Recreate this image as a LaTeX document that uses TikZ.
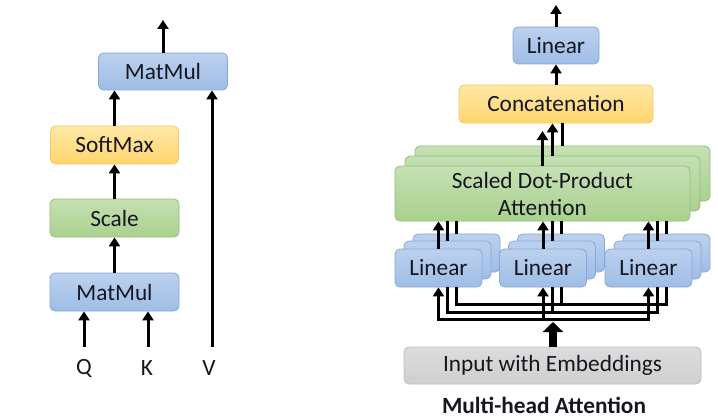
\documentclass[tikz,border=0pt]{standalone}
\usepackage{fontspec}
\setmainfont{Carlito}
\usetikzlibrary{arrows.meta,calc}
\definecolor{txt}{RGB}{22,22,32}
\definecolor{blueT}{HTML}{BCD1EE}
\definecolor{blueBot}{HTML}{9EBDE6}
\definecolor{blueB}{HTML}{86A8D8}
\definecolor{greenT}{HTML}{C6E0B4}
\definecolor{greenBot}{HTML}{A9D18E}
\definecolor{greenB}{HTML}{93BE79}
\definecolor{yelT}{HTML}{FFE7A6}
\definecolor{yelBot}{HTML}{FFD66E}
\definecolor{yelB}{HTML}{F4C96A}
\definecolor{grayT}{HTML}{DCDCDC}
\definecolor{grayBot}{HTML}{CFCFCF}
\definecolor{grayB}{HTML}{BEBEBE}
\newcommand{\fs}{\fontsize{23.3pt}{27pt}\selectfont}
\tikzset{
  box/.style={rounded corners=5pt, line width=0.8pt, inner sep=0pt, font=\fs, text=txt, align=center},
  bluebox/.style={box, draw=blueB, top color=blueT, bottom color=blueBot},
  greenbox/.style={box, draw=greenB, top color=greenT, bottom color=greenBot},
  yelbox/.style={box, draw=yelB, top color=yelT, bottom color=yelBot},
  graybox/.style={box, draw=grayB, top color=grayT, bottom color=grayBot},
  arr/.style={line width=3pt, -{Triangle[length=9pt,width=11pt]}},
  wire/.style={line width=3pt, line cap=rect},
  plain/.style={line width=3pt},
  bigarr/.style={line width=8pt, -{Triangle[length=10pt,width=20pt]}},
  lbl/.style={font=\fs, text=txt, inner sep=0pt}
}
\begin{document}
\begin{tikzpicture}[x=1pt,y=-1pt]
\useasboundingbox (0,0) rectangle (718,420);
\fill[white] (0,0) rectangle (718,420);
% ---------- left: scaled dot-product attention ----------
\node[bluebox, minimum width=129pt, minimum height=37pt] (mm1) at (163,71.5) {MatMul};
\node[yelbox, minimum width=128pt, minimum height=38pt] (sm) at (114.5,145) {SoftMax};
\node[greenbox, minimum width=129pt, minimum height=38pt] (sc) at (114.5,218) {Scale};
\node[bluebox, minimum width=129pt, minimum height=38pt] (mm2) at (114.5,292) {MatMul};
\node[lbl] (q) at (84,368) {Q};
\node[lbl] (k) at (147,368) {K};
\node[lbl] (v) at (209,368) {V};
\coordinate (out1) at (163,20);
\coordinate (qin) at (84,347);
\coordinate (kin) at (148,347);
\coordinate (vin) at (212,347);
\draw[arr] (mm1.north) -- (out1);
\draw[arr] (sm.north) -- (sm.north |- mm1.south);
\draw[arr] (sc.north) -- (sc.north |- sm.south);
\draw[arr] (mm2.north) -- (mm2.north |- sc.south);
\draw[arr] (qin) -- (qin |- mm2.south);
\draw[arr] (kin) -- (kin |- mm2.south);
\draw[arr] (vin) -- (vin |- mm1.south);
% ---------- right: multi-head attention ----------
\node[bluebox, minimum width=86pt, minimum height=37pt] (lt) at (556,45.5) {Linear};
\node[yelbox, minimum width=194pt, minimum height=38pt] (cc) at (556,104) {Concatenation};
\node[greenbox, minimum width=295pt, minimum height=55pt] (s3) at (562.5,173.5) {};
\node[greenbox, minimum width=295pt, minimum height=55pt] (s2) at (552.5,183.5) {};
\node[greenbox, minimum width=295pt, minimum height=55pt] (s1) at (542.5,193.5) {Scaled Dot-Product\\Attention};
\foreach \n/\cx in {1/438.5, 2/543, 3/648.5}{
  \node[bluebox, minimum width=87pt, minimum height=38pt] (l\n c) at (\cx+18,253) {};
  \node[bluebox, minimum width=87pt, minimum height=38pt] (l\n b) at (\cx+9,260) {};
  \node[bluebox, minimum width=87pt, minimum height=38pt] (l\n a) at (\cx,268) {Linear};
}
\node[graybox, minimum width=297pt, minimum height=37pt] (inp) at (552.5,365.5) {Input with Embeddings};
\node[lbl, font=\fs\bfseries] (title) at (544,405) {Multi-head Attention};
% output of top linear
\coordinate (out2) at (556,5);
\draw[arr] (lt.north) -- (out2);
\draw[arr] (cc.north) -- (cc.north |- lt.south);
% attention heads to concatenation
\coordinate (c1) at (542.5,131);
\draw[arr] (s1.north) -- (c1);
\draw[arr] (s2.north) -- (s2.north |- cc.south);
\draw[plain] (s3.north) -- (s3.north |- cc.south);
% linear to attention
\foreach \n in {1,2,3}{
  \draw[arr] (l\n a.north) -- (l\n a.north |- s1.south);
  \draw[plain] (l\n b.north) -- (l\n b.north |- s1.south);
  \draw[plain] (l\n c.north) -- (l\n c.north |- s1.south);
}
% input wiring
\foreach \n in {1,2,3}{
  \coordinate (wa\n) at ($(l\n a.south)+(0,32)$);
  \coordinate (wb\n) at ($(l\n b.south)+(0,33)$);
  \coordinate (wc\n) at ($(l\n c.south)+(0,32)$);
}
\draw[wire] (wa1) -- (wa3);
\draw[wire] (wb1) -- (wb3);
\draw[wire] (wc1) -- (wc3);
\foreach \n in {1,2,3}{
  \draw[arr] (wa\n) -- (wa\n |- l\n a.south);
  \draw[plain] (wb\n) -- (wb\n |- l\n a.south);
  \draw[plain] (wc\n) -- (wc\n |- l\n a.south);
}
\coordinate (bigtip) at (553,322);
\draw[bigarr] (inp.north -| bigtip) -- (bigtip);
\end{tikzpicture}
\end{document}
